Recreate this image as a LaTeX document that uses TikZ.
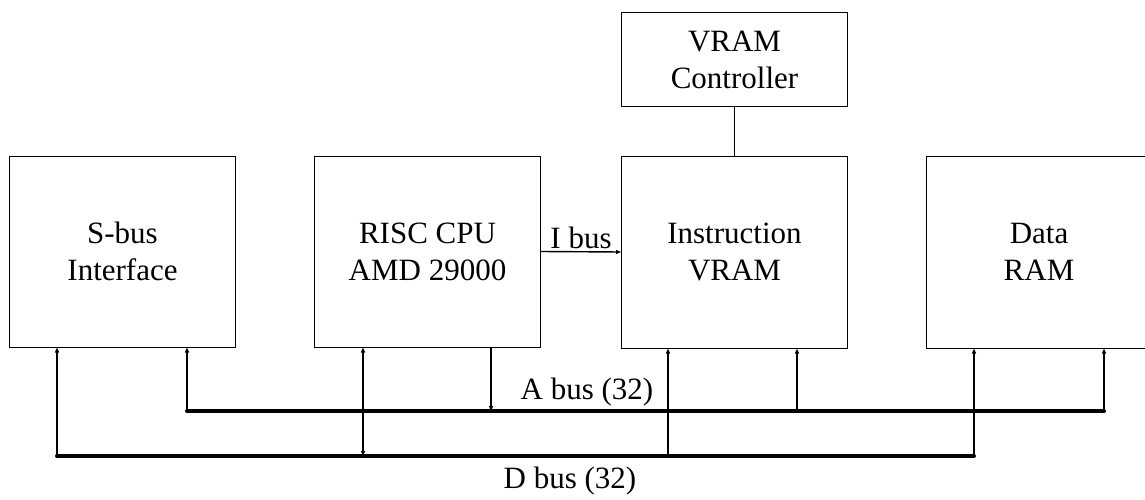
\documentclass[tikz,border=0pt]{standalone}
\usepackage{fontspec}
\setmainfont{Liberation Serif}
\usetikzlibrary{arrows.meta}
\tikzset{
  blk/.style={draw, line width=1pt, inner sep=0pt, align=center,
    minimum width=226pt, font=\fontsize{31}{37}\selectfont},
  conn/.style={line width=1.4pt},
  tipb/.style={-{Triangle[length=5pt,width=4pt]}},
  bus/.style={line width=4pt, line cap=round},
  lbl/.style={font=\fontsize{31}{37}\selectfont, inner sep=2pt}
}
\begin{document}
\begin{tikzpicture}[x=1pt,y=-1pt]
\useasboundingbox (0,0) rectangle (1145,500);
% boxes
\node[blk, minimum height=191pt] (sbus) at (122.5,251.5) {S-bus\\Interface};
\node[blk, minimum height=191pt] (cpu) at (427.5,251.5) {RISC CPU\\AMD 29000};
\node[blk, minimum height=192pt] (ivram) at (734.5,252) {Instruction\\VRAM};
\node[blk, minimum height=94pt] (ctrl) at (734.5,60) {VRAM\\Controller};
\node[blk, minimum height=192pt] (dram) at (1039,252) {Data\\RAM};
% bus coordinates
\coordinate (d1) at (57,456);
\coordinate (d2) at (363,456);
\coordinate (d3) at (668,456);
\coordinate (d4) at (974,456);
\coordinate (a1) at (187,411);
\coordinate (a2) at (491,411);
\coordinate (a3) at (797,411);
\coordinate (a4) at (1104,411);
% controller link
\draw[conn] (ctrl.south) -- (ivram.north);
% I bus
\draw[conn, tipb] (cpu.east) -- (ivram.west) node[lbl, midway, above] (ibus) {I bus};
% connectors
\draw[conn, tipb] (d1) -- (d1 |- sbus.south);
\draw[conn, tipb] (a1) -- (a1 |- sbus.south);
\draw[conn, {Triangle[length=5pt,width=4pt]}-{Triangle[length=5pt,width=4pt]}] (d2) -- (d2 |- cpu.south);
\draw[conn, tipb] (a2 |- cpu.south) -- (a2);
\draw[conn, tipb] (d3) -- (d3 |- ivram.south);
\draw[conn, tipb] (a3) -- (a3 |- ivram.south);
\draw[conn, tipb] (d4) -- (d4 |- dram.south);
\draw[conn, tipb] (a4) -- (a4 |- dram.south);
% buses
\draw[bus] (a1) -- (a4);
\draw[bus] (d1) -- (d4);
% labels
\node[lbl] (alabel) at (587,392) {A bus (32)};
\node[lbl] (dlabel) at (570,481) {D bus (32)};
\end{tikzpicture}
\end{document}
